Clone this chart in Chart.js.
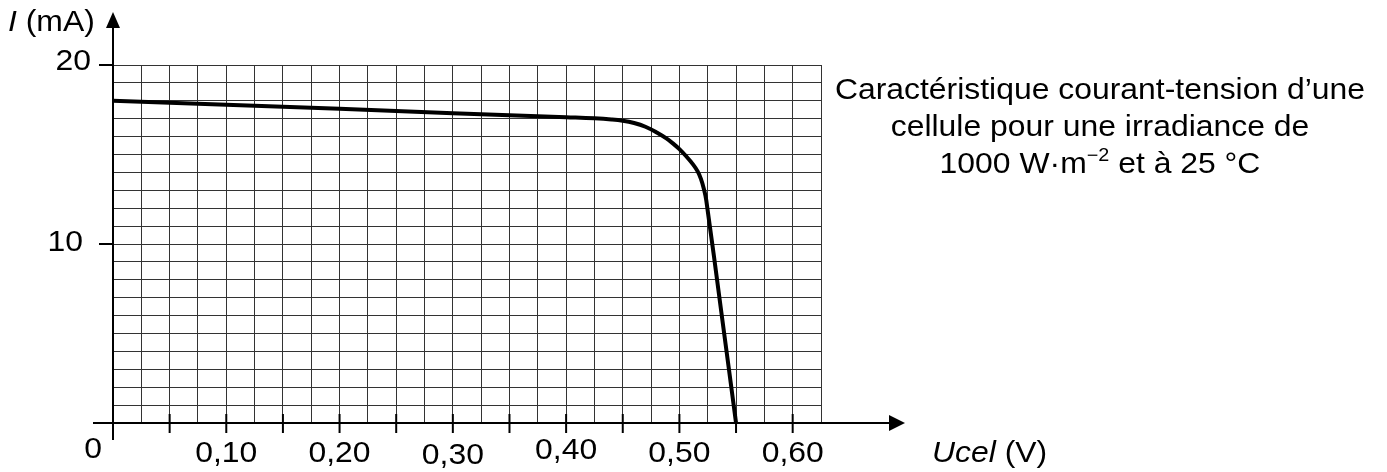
<!DOCTYPE html>
<html>
<head>
<meta charset="utf-8">
<script src="https://cdn.jsdelivr.net/npm/chart.js@4"></script>
<style>
  html, body { margin: 0; padding: 0; background: #fff; }
  #wrap { width: 1387px; height: 472px; }
</style>
</head>
<body>
<div id="wrap"><canvas id="ivChart"></canvas></div>
<script>
// U (V) and I (mA)
const uValues = [0, 0.10, 0.20, 0.30, 0.40, 0.425, 0.44, 0.45, 0.46, 0.47, 0.48, 0.4885, 0.495, 0.50, 0.506, 0.512, 0.516, 0.519, 0.5215, 0.5237, 0.537, 0.55];
const iValues = [18.0, 17.78, 17.55, 17.31, 17.08, 17.02, 16.96, 16.89, 16.76, 16.55, 16.23, 15.9, 15.58, 15.3, 14.9, 14.45, 14.07, 13.64, 13.1, 12.45, 6.2, 0];

const xTickValues = [0.10, 0.20, 0.30, 0.40, 0.50, 0.60];
const xTickLabels = ['0,10', '0,20', '0,30', '0,40', '0,50', '0,60'];
const xMinorTicks = [0.05, 0.15, 0.25, 0.35, 0.45, 0.55];
const yTickValues = [10, 20];
const yTickLabels = ['10', '20'];

const titleLines = ['Caractéristique courant-tension d’une', 'cellule pour une irradiance de'];

const FONT = '"Liberation Sans", Arial, sans-serif';
const FONT_PX = 29;
const HSCALE = 1.1;

function drawText(ctx, s, x, y, align, italic) {
    ctx.save();
    ctx.translate(x, y);
    ctx.scale(HSCALE, 1);
    ctx.font = (italic ? 'italic ' : '') + FONT_PX + 'px ' + FONT;
    ctx.textAlign = align;
    ctx.textBaseline = 'alphabetic';
    ctx.fillStyle = '#000';
    ctx.fillText(s, 0, 0);
    ctx.restore();
}

function textWidth(ctx, s, px, italic) {
    ctx.save();
    ctx.font = (italic ? 'italic ' : '') + px + 'px ' + FONT;
    const w = ctx.measureText(s).width * HSCALE;
    ctx.restore();
    return w;
}

const axesPlugin = {
    id: 'axesDecor',
    afterDraw(chart) {
        const ctx = chart.ctx;
        const xs = chart.scales.x, ys = chart.scales.y;
        const x0 = xs.getPixelForValue(0);
        const y0 = ys.getPixelForValue(0);

        ctx.save();
        ctx.strokeStyle = '#000';
        ctx.fillStyle = '#000';
        ctx.lineWidth = 2;

        // x axis + arrow
        ctx.beginPath();
        ctx.moveTo(x0 - 20, y0);
        ctx.lineTo(890, y0);
        ctx.stroke();
        ctx.beginPath();
        ctx.moveTo(905, y0);
        ctx.lineTo(889, y0 - 8);
        ctx.lineTo(889, y0 + 8);
        ctx.closePath();
        ctx.fill();

        // y axis + arrow
        ctx.beginPath();
        ctx.moveTo(x0, y0 + 17);
        ctx.lineTo(x0, 27);
        ctx.stroke();
        ctx.beginPath();
        ctx.moveTo(x0, 12);
        ctx.lineTo(x0 - 7, 28);
        ctx.lineTo(x0 + 7, 28);
        ctx.closePath();
        ctx.fill();

        // x ticks
        xTickValues.concat(xMinorTicks).forEach(v => {
            const px = xs.getPixelForValue(v);
            ctx.beginPath();
            ctx.moveTo(px, y0 - 9);
            ctx.lineTo(px, y0 + 10);
            ctx.stroke();
        });
        // y ticks
        yTickValues.forEach(v => {
            const py = ys.getPixelForValue(v);
            ctx.beginPath();
            ctx.moveTo(x0 - 14, py);
            ctx.lineTo(x0, py);
            ctx.stroke();
        });
        ctx.restore();

        // tick labels (small vertical jitter as in the scan)
        const xJitter = [0, 0, 1.5, -3.5, 0, 0];
        xTickValues.forEach((v, i) => {
            drawText(ctx, xTickLabels[i], xs.getPixelForValue(v), y0 + 39 + xJitter[i], 'center');
        });
        drawText(ctx, '0', x0 - 20, y0 + 35, 'center');

        const yRight = [x0 - 30, x0 - 22];
        const yBase = [7, 4.5];
        yTickValues.forEach((v, i) => {
            drawText(ctx, yTickLabels[i], yRight[i], ys.getPixelForValue(v) + yBase[i], 'right');
        });

        // axis titles
        drawText(ctx, 'I', 8, 31, 'left', true);
        drawText(ctx, ' (mA)', 8 + textWidth(ctx, 'I', FONT_PX, true), 31, 'left');
        drawText(ctx, 'Ucel', 932, y0 + 39, 'left', true);
        drawText(ctx, ' (V)', 932 + textWidth(ctx, 'Ucel', FONT_PX, true), y0 + 39, 'left');

        // caption on the right
        const cx = 1100;
        drawText(ctx, titleLines[0], cx, 99, 'center');
        drawText(ctx, titleLines[1], cx, 136, 'center');
        const a = '1000 W·m', sup = '−2', b = ' et à 25 °C';
        const wa = textWidth(ctx, a, FONT_PX), wb = textWidth(ctx, b, FONT_PX);
        const ws = textWidth(ctx, sup, 18);
        let sx = cx - (wa + ws + wb) / 2;
        drawText(ctx, a, sx, 173, 'left');
        ctx.save();
        ctx.translate(sx + wa, 161);
        ctx.scale(HSCALE, 1);
        ctx.font = '18px ' + FONT;
        ctx.fillStyle = '#000';
        ctx.fillText(sup, 0, 0);
        ctx.restore();
        drawText(ctx, b, sx + wa + ws, 173, 'left');
    }
};

const ctx = document.getElementById('ivChart').getContext('2d');
new Chart(ctx, {
    type: 'line',
    data: {
        datasets: [{
            data: uValues.map((u, i) => ({ x: u, y: iValues[i] })),
            borderColor: '#000',
            borderWidth: 4,
            pointRadius: 0,
            fill: false,
            tension: 0.4,
            borderJoinStyle: 'round'
        }]
    },
    options: {
        responsive: true,
        maintainAspectRatio: false,
        animation: false,
        layout: { padding: { left: 113, right: 566, top: 65, bottom: 49 } },
        plugins: {
            legend: { display: false },
            tooltip: { enabled: false }
        },
        scales: {
            x: {
                type: 'linear',
                min: 0,
                max: 0.625,
                ticks: { display: false, stepSize: 0.025 },
                grid: { color: '#333', lineWidth: 1, drawTicks: false },
                border: { display: false }
            },
            y: {
                min: 0,
                max: 20,
                ticks: { display: false, stepSize: 1 },
                grid: { color: '#333', lineWidth: 1, drawTicks: false },
                border: { display: false }
            }
        }
    },
    plugins: [axesPlugin]
});
</script>
</body>
</html>
